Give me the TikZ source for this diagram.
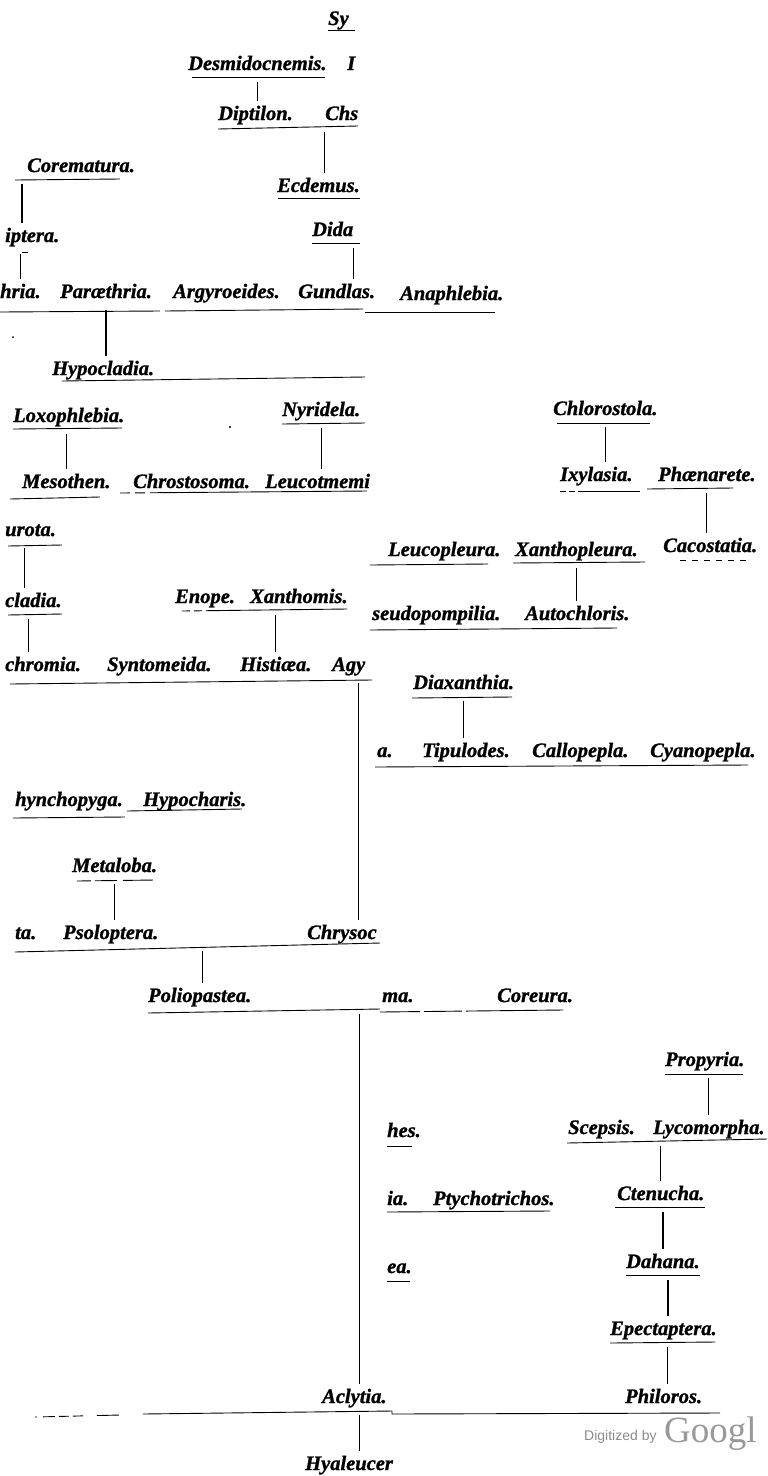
\documentclass[tikz,border=0pt]{standalone}
\usepackage{fontspec}
\setmainfont{Liberation Serif}[BoldItalicFeatures={FakeBold=1.2}]
\newfontfamily\wmsans{Liberation Sans}

\begin{document}
\begin{tikzpicture}[x=1pt, y=-1pt,
	every node/.style={font=\fontsize{20.5}{23}\selectfont\bfseries\itshape, anchor=base west,
		inner xsep=0pt, inner ysep=5pt, text height=14pt, text depth=3pt},
	rule/.style={line width=0.9pt},
	stem/.style={line width=1.2pt, shorten <=4pt}]
	\useasboundingbox[fill=white] (0,0) rectangle (768,1476);

	% upper block
	\node (sy) at (328,25) {Sy};
	\node (frag) at (347,70) {I};
	\node (desm) at (188,70) {Desmidocnemis.};
	\node (dipt) at (218,120) {Diptilon.};
	\node (chs) at (325,120) {Chs};
	\node (ecde) at (277,192) {Ecdemus.};
	\node (dida) at (312,236) {Dida};
	\node (corem) at (27,172) {Corematura.};
	\node (ipte) at (5,242) {iptera.};
	\node (hria) at (0,298) {hria.};
	\node (para) at (60,298) {Paræthria.};
	\node (argy) at (173,298) {Argyroeides.};
	\node (gund) at (298,298) {Gundlas.};
	\node (anap) at (400,300) {Anaphlebia.};

	\draw[rule] (328,30) -- (355,30);
	\draw[rule] (192,77) -- (325,77);
	\draw[rule] (218,129) -- (358,126);
	\draw[rule] (278,198) -- (360,198);
	\draw[rule] (312,243) -- (360,243);
	\draw[rule] (15,180) -- (120,179);
	\draw[rule] (22,252) -- (28,252);
	\draw[rule] (0,312) -- (160,311);
	\draw[rule] (165,311) -- (363,309);
	\draw[rule] (365,312) -- (495,312);

	\draw[stem] (desm.south) -- (desm.south |- dipt.north);
	\draw[stem] ([xshift=6pt]ecde.north |- dipt.south) -- ([xshift=6pt]ecde.north);
	\draw[stem] (dida.south east) -- (dida.south east |- gund.north);
	\draw[stem] ([xshift=-5pt]corem.south west) -- ([xshift=-5pt]corem.south west |- ipte.north);
	\draw[stem] (hria.north |- ipte.south) -- (hria.north);

	% left middle block
	\node (hypo) at (52,375) {Hypocladia.};
	\node (loxo) at (13,422) {Loxophlebia.};
	\node (meso) at (22,488) {Mesothen.};
	\node (chro) at (133,488) {Chrostosoma.};
	\node (leuc) at (265,488) {Leucotmemi};
	\node (nyri) at (282,416) {Nyridela.};
	\node (urot) at (5,536) {urota.};
	\node (clad) at (5,607) {cladia.};
	\node (enop) at (175,603) {Enope.};
	\node (xant) at (250,603) {Xanthomis.};
	\node (chrm) at (5,671) {chromia.};
	\node (synt) at (107,671) {Syntomeida.};
	\node (hist) at (240,671) {Histiæa.};
	\node (agy) at (332,671) {Agy};

	\draw[rule] (62,381) -- (365,377);
	\draw[rule] (13,429) -- (122,428);
	\draw[rule] (10,499) -- (100,497);
	\draw[rule, dash pattern=on 10pt off 5pt on 10pt off 5pt on 400pt] (120,493) -- (367,491);
	\draw[rule] (282,424) -- (365,423);
	\draw[rule] (8,546) -- (62,545);
	\draw[rule] (8,615) -- (62,614);
	\draw[rule, dash pattern=on 8pt off 4pt on 8pt off 4pt on 400pt] (182,611) -- (347,609);
	\draw[rule] (10,684) -- (372,680);

	\draw[stem] (para.south) -- (para.south |- hypo.north);
	\draw[stem] (meso.north |- loxo.south) -- (meso.north);
	\draw[stem] (nyri.south) -- (nyri.south |- leuc.north);
	\draw[stem] ([xshift=-6pt]urot.south) -- ([xshift=-6pt]urot.south |- clad.north);
	\draw[stem] ([xshift=-5pt]clad.south) -- ([xshift=-5pt]clad.south |- chrm.north);
	\draw[stem] (hist.north |- xant.south) -- (hist.north);

	% right middle block
	\node (chlo) at (553,415) {Chlorostola.};
	\node (ixyl) at (560,481) {Ixylasia.};
	\node (phae) at (658,481) {Phænarete.};
	\node (leup) at (388,556) {Leucopleura.};
	\node (xanp) at (515,556) {Xanthopleura.};
	\node (caco) at (663,552) {Cacostatia.};
	\node (pseu) at (372,620) {seudopompilia.};
	\node (auto) at (525,620) {Autochloris.};
	\node (diax) at (413,689) {Diaxanthia.};
	\node (aend) at (377,757) {a.};
	\node (tipu) at (422,757) {Tipulodes.};
	\node (callo) at (532,757) {Callopepla.};
	\node (cyan) at (650,757) {Cyanopepla.};

	\draw[rule] (557,423) -- (650,423);
	\draw[rule, dash pattern=on 6pt off 3pt on 6pt off 3pt on 200pt] (560,491) -- (640,491);
	\draw[rule] (647,489) -- (733,488);
	\draw[rule] (370,565) -- (488,564);
	\draw[rule] (513,563) -- (645,562);
	\draw[rule, dash pattern=on 6pt off 6pt] (680,560) -- (747,560);
	\draw[rule] (370,630) -- (617,628);
	\draw[rule] (412,698) -- (512,697);
	\draw[rule] (375,767) -- (748,765);

	\draw[stem] (chlo.south) -- (chlo.south |- ixyl.north);
	\draw[stem] (phae.south) -- (phae.south |- caco.north);
	\draw[stem] (xanp.south) -- (xanp.south |- auto.north);
	\draw[stem] (diax.south) -- (diax.south |- tipu.north);

	% lower left block
	\node (hync) at (15,806) {hynchopyga.};
	\node (hypc) at (143,806) {Hypocharis.};
	\node (meta) at (72,872) {Metaloba.};
	\node (tae) at (15,939) {ta.};
	\node (psol) at (63,939) {Psoloptera.};
	\node (chry) at (307,939) {Chrysoc};
	\node (poli) at (148,1002) {Poliopastea.};
	\node (mae) at (382,1002) {ma.};
	\node (core) at (497,1002) {Coreura.};

	\draw[rule] (13,818) -- (125,817);
	\draw[rule] (127,811) -- (242,809);
	\draw[rule, dash pattern=on 14pt off 4pt on 22pt off 6pt on 30pt off 6pt] (77,881) -- (155,880);
	\draw[rule] (15,952) -- (380,943);
	\draw[rule] (148,1013) -- (380,1009);
	\draw[rule, dash pattern=on 40pt off 4pt on 38pt off 4pt on 200pt] (380,1012) -- (563,1010);

	\draw[stem] ([xshift=10pt]agy.south) -- ([xshift=10pt]agy.south |- chry.north);
	\draw[stem] (meta.south) -- (meta.south |- psol.north);
	\draw[stem] ([xshift=3pt]poli.north |- psol.south) -- ([xshift=3pt]poli.north);

	% lower right block
	\node (hes) at (387,1137) {hes.};
	\node (iae) at (387,1205) {ia.};
	\node (ptyc) at (433,1205) {Ptychotrichos.};
	\node (eae) at (387,1273) {ea.};
	\node (prop) at (665,1066) {Propyria.};
	\node (scep) at (568,1134) {Scepsis.};
	\node (lyco) at (653,1134) {Lycomorpha.};
	\node (cten) at (617,1200) {Ctenucha.};
	\node (daha) at (626,1268) {Dahana.};
	\node (epec) at (610,1335) {Epectaptera.};
	\node (acly) at (322,1403) {Aclytia.};
	\node (phil) at (625,1403) {Philoros.};
	\node (hyal) at (305,1470) {Hyaleucer};

	\draw[rule] (387,1146) -- (412,1146);
	\draw[rule] (387,1212) -- (550,1211);
	\draw[rule] (387,1281) -- (410,1281);
	\draw[rule] (665,1074) -- (743,1074);
	\draw[rule] (567,1143) -- (767,1139);
	\draw[rule] (615,1207) -- (705,1207);
	\draw[rule] (626,1275) -- (700,1275);
	\draw[rule] (610,1343) -- (715,1342);
	\draw[rule, dash pattern=on 2pt off 6pt on 12pt off 4pt on 10pt off 4pt on 10pt off 14pt on 22pt] (35,1417) -- (120,1415);
	\draw[rule] (143,1414) -- (392,1411) -- (392,1414) -- (720,1413);

	\draw[stem] ([xshift=5pt]acly.north |- poli.south) -- ([xshift=5pt]acly.north);
	\draw[stem] ([xshift=4pt]prop.south) -- ([xshift=4pt]prop.south |- lyco.north);
	\draw[stem] (cten.north |- lyco.south) -- (cten.north);
	\draw[stem] (daha.north |- cten.south) -- (daha.north);
	\draw[stem] ([xshift=5pt]daha.south) -- ([xshift=5pt]daha.south |- epec.north);
	\draw[stem] ([xshift=4pt]phil.north |- epec.south) -- ([xshift=4pt]phil.north);
	\draw[stem] ([xshift=5pt]acly.south) -- ([xshift=5pt]acly.south |- hyal.north);

	% specks and scan mark
	\fill (13,337) circle (1);
	\fill (230,427) circle (1.2);
	\node[font=\wmsans\fontsize{14}{16}\selectfont, text=black!45] (wmby) at (584,1440) {Digitized by};
	\node[font=\fontsize{37}{40}\selectfont, text=black!40] (wmgo) at (664,1442) {Googl};
\end{tikzpicture}
\end{document}
